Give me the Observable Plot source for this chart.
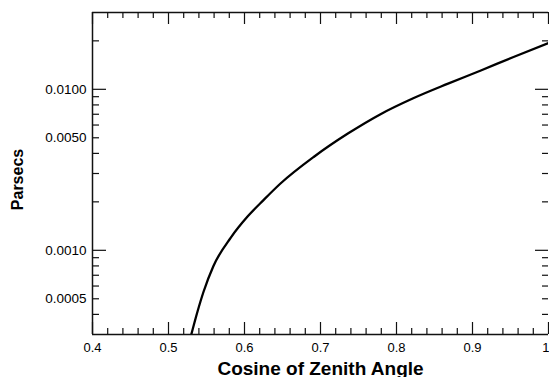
<!DOCTYPE html>
<html><head><meta charset="utf-8">
<script src="https://cdn.jsdelivr.net/npm/d3@7"></script>
<script src="https://cdn.jsdelivr.net/npm/@observablehq/plot@0.6"></script>
<style>html,body{margin:0;padding:0;background:#fff;overflow:hidden} svg{display:block}</style>
</head><body><div id="chart"></div>
<script>
// Curve values
const cosZenith = [0.530, 0.538, 0.546, 0.559, 0.582, 0.604, 0.625, 0.647, 0.691, 0.736, 0.779, 0.822, 0.867, 0.911, 0.954, 1.0];
const parsecs   = [0.00030, 0.000414, 0.000551, 0.000797, 0.00120, 0.00162, 0.00205, 0.00259, 0.00380, 0.00531, 0.00701, 0.00880, 0.01081, 0.01309, 0.01588, 0.01937];

// Axis ticks
const xLabels = [0.4, 0.5, 0.6, 0.7, 0.8, 0.9, 1.0];
const xMinor  = [0.42,0.44,0.46,0.48,0.52,0.54,0.56,0.58,0.62,0.64,0.66,0.68,0.72,0.74,0.76,0.78,0.82,0.84,0.86,0.88,0.92,0.94,0.96,0.98];
const yLabels = [0.0005, 0.0010, 0.0050, 0.0100];
const yMajor  = [0.001, 0.01];
const yMinor  = [0.0004,0.0005,0.0006,0.0007,0.0008,0.0009,0.002,0.003,0.004,0.005,0.006,0.007,0.008,0.009,0.02];

const xTitle = "Cosine of Zenith Angle";
const yTitle = "Parsecs";

const data = cosZenith.map((c, i) => ({cos: c, pc: parsecs[i]}));

const W = 549, H = 377, mL = 92, mR = 1, mT = 12, mB = 43;
const innerW = W - mL - mR, innerH = H - mT - mB;
const font = "'Liberation Sans', Arial, Helvetica, sans-serif";
const axisColor = "#111";

const chart = Plot.plot({
  width: W, height: H,
  marginLeft: mL, marginRight: mR, marginTop: mT, marginBottom: mB,
  x: {domain: [0.4, 1.0], axis: null},
  y: {type: "log", domain: [0.0003, 0.03], axis: null},
  style: {fontFamily: font, background: "white", color: "black", overflow: "hidden"},
  marks: [
    // frame lines (left, bottom, top)
    Plot.ruleX([0.4], {stroke: axisColor, strokeWidth: 1.5}),
    Plot.ruleY([0.0003, 0.03], {stroke: axisColor, strokeWidth: 1.5}),
    // x ticks bottom & top (inward)
    Plot.ruleX(xLabels, {insetTop: innerH - 12, stroke: axisColor, strokeWidth: 1.2}),
    Plot.ruleX(xMinor, {insetTop: innerH - 6, stroke: axisColor, strokeWidth: 1.2}),
    Plot.ruleX(xLabels, {insetBottom: innerH - 12, stroke: axisColor, strokeWidth: 1.2}),
    Plot.ruleX(xMinor, {insetBottom: innerH - 6, stroke: axisColor, strokeWidth: 1.2}),
    // y ticks left & right (inward)
    Plot.ruleY(yMajor, {insetRight: innerW - 14, stroke: axisColor, strokeWidth: 1.2}),
    Plot.ruleY(yMinor, {insetRight: innerW - 7, stroke: axisColor, strokeWidth: 1.2}),
    Plot.ruleY(yMajor, {insetLeft: innerW - 13, stroke: axisColor, strokeWidth: 1.2}),
    Plot.ruleY(yMinor, {insetLeft: innerW - 6, stroke: axisColor, strokeWidth: 1.2}),
    // x tick labels
    Plot.text(xLabels.filter(d => d < 1), {x: d => d, frameAnchor: "bottom", lineAnchor: "top",
      dy: 8, fontSize: 13, fill: "black", text: d => d.toFixed(1)}),
    Plot.text(xLabels.filter(d => d === 1), {x: d => d, frameAnchor: "bottom", lineAnchor: "top",
      textAnchor: "end", dx: 1, dy: 8, fontSize: 13, fill: "black", text: d => String(d)}),
    // y tick labels
    Plot.text(yLabels, {y: d => d, frameAnchor: "left", textAnchor: "end", dx: -6,
      fontSize: 13.5, fill: "black", text: d3.format(".4f")}),
    // titles
    Plot.text([xTitle], {frameAnchor: "bottom", textAnchor: "middle", lineAnchor: "bottom", dy: 40,
      fontSize: 19, fontWeight: "bold", fill: "black"}),
    Plot.text([yTitle], {frameAnchor: "left", textAnchor: "middle", rotate: -90, dx: -75, dy: 6,
      fontSize: 16, fontWeight: "bold", fill: "black"}),
    // curve
    Plot.line(data, {x: "cos", y: "pc", stroke: "black", strokeWidth: 2.3,
      curve: "monotone-x", clip: true})
  ]
});
document.getElementById("chart").appendChild(chart);
</script>
</body></html>
